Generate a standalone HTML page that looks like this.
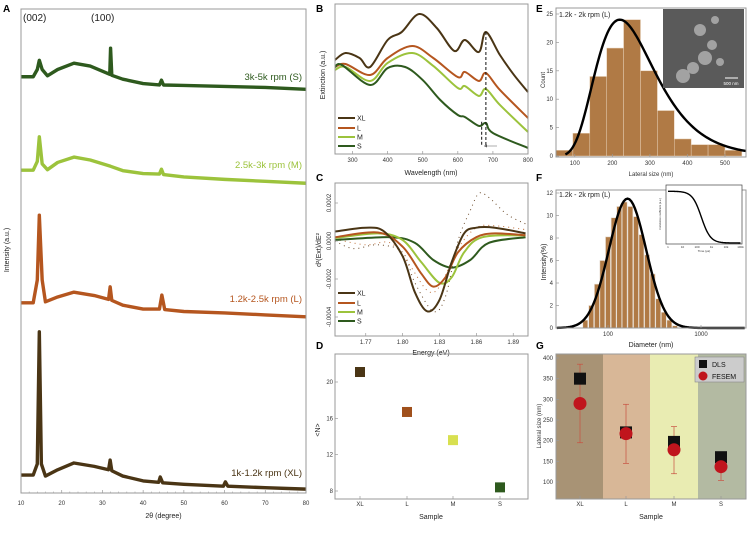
<!DOCTYPE html>
<html><head><meta charset="utf-8"><style>
body{margin:0;background:#fff;}
svg{display:block;font-family:"Liberation Sans",sans-serif;}
.t{font-size:6px;fill:#333;}
.ax{font-size:7px;fill:#222;}
.pl{font-size:10px;font-weight:bold;fill:#000;}
</style></head><body>
<svg id="fig" width="750" height="546" viewBox="0 0 750 546" xmlns="http://www.w3.org/2000/svg">
<g id="g"></g>
</svg>
<script>
// ---- Panel A XRD data [2theta, intensity a.u.]
const xrdS=[[10,86],[13,86],[14,87.5],[14.5,89.4],[15.2,87.5],[16.5,86.2],[19,87.5],[23,88.8],[27,88.2],[31,86.8],[31.8,86.5],[32,91.9],[32.3,86.3],[35,85.5],[40,84.6],[44,84.3],[44.5,85.3],[45,84.3],[50,84.2],[60,84],[70,83.8],[80,83.4]];
const xrdM=[[10,66.7],[13,66.7],[14,68.5],[14.5,73.6],[15.2,68],[16.5,66.8],[19,68.3],[23,69.4],[27,68.8],[32,67.5],[35,66.6],[40,66],[44,65.9],[44.5,66.9],[45,65.8],[50,65.3],[60,64.8],[70,64.4],[80,64]];
const xrdL=[[10,39.3],[13,39.3],[14,44],[14.5,57.4],[15.2,44],[16,39.5],[19,40.5],[23,41.5],[28,40.8],[31.5,40],[31.9,42.6],[32.3,39.8],[35,38.8],[40,38],[44,38],[44.6,40.9],[45.3,37.9],[50,37.5],[60,37.2],[70,36.8],[80,36.4]];
const xrdXL=[[10,3.7],[13,3.7],[14,6],[14.5,33.3],[15,6],[16,3.5],[19,4.8],[23,6.2],[28,5.5],[31.5,4.8],[31.9,6.8],[32.3,4.6],[35,3.5],[40,2.5],[43.8,2.2],[44.2,3.3],[44.8,2.1],[50,1.8],[59.7,1.4],[60.2,2.3],[60.8,1.4],[70,1.1],[80,0.8]];
const xrdTicks=[10,20,30,40,50,60,70,80];
// ---- Panel B extinction
const extXL=[[250,62.7],[280,67.3],[320,64],[350,58],[400,76],[440,81.3],[490,93.3],[540,84],[590,68.7],[620,76],[660,68],[680,81.3],[720,66],[760,52.7],[800,41.3]];
const extL=[[250,58],[280,60],[350,52.7],[400,64],[470,72],[530,64],[600,51.3],[620,54.7],[660,48.7],[680,54],[720,42.7],[800,24]];
const extM=[[250,56],[280,58],[350,48.7],[400,60.7],[470,67.3],[530,58.7],[600,44],[620,45.3],[660,38.7],[680,43.3],[720,32.7],[800,14.7]];
const extS=[[250,58],[270,59.3],[350,46],[400,57.3],[450,58],[500,49.3],[550,36],[600,26],[620,24.7],[660,18.7],[680,20.7],[700,14],[800,4]];
const extTicks=[300,400,500,600,700,800];
// ---- Panel C second derivative (units 1e-4)
const d2XL=[[1.745,0.5],[1.77,0.7],[1.785,0.5],[1.80,-0.8],[1.81,-2.7],[1.82,-3.7],[1.83,-3.1],[1.84,-1.1],[1.85,0.4],[1.86,0.7],[1.875,0.7],[1.90,0.4]];
const d2L=[[1.745,0.2],[1.78,0.45],[1.80,-0.3],[1.815,-1.7],[1.825,-2.4],[1.835,-1.9],[1.845,-0.6],[1.86,0.2],[1.875,0.4],[1.90,0.3]];
const d2M=[[1.745,0.15],[1.78,0.4],[1.80,0.05],[1.815,-1.1],[1.83,-2.2],[1.84,-1.9],[1.85,-0.6],[1.865,0.2],[1.90,0.3]];
const d2S=[[1.745,0.05],[1.79,0.2],[1.81,-0.1],[1.825,-1.0],[1.84,-1.4],[1.855,-1.0],[1.87,-0.1],[1.90,0.2]];
const d2Dot1=[[1.745,0],[1.76,-0.4],[1.78,-0.2],[1.80,-0.6],[1.81,-2.2],[1.825,-3.7],[1.835,-2.9],[1.845,0],[1.855,1.6],[1.862,2.5],[1.87,2.3],[1.885,1.4],[1.90,0.9]];
const d2Dot2=[[1.745,0.1],[1.77,-0.2],[1.79,-0.1],[1.805,-1.2],[1.82,-2.6],[1.83,-2.4],[1.845,-0.4],[1.86,0.7],[1.875,0.8],[1.90,0.6]];
const d2XTicks=[1.77,1.80,1.83,1.86,1.89];
const d2YTicks=[2,0,-2,-4];
// ---- Panel D
const samples=["XL","L","M","S"];
const nValues=[21.1,16.7,13.6,8.4];
const nTicks=[8,12,16,20];
// ---- Panel E histogram
const binEdges=[50,95,140,185,230,275,320,365,410,455,500,545];
const binCounts=[1,4,14,19,24,15,8,3,2,2,1];
const eXTicks=[100,200,300,400,500];
const eYTicks=[0,5,10,15,20,25];
// ---- Panel F DLS
const dlsDiam=[57,66,76,87,100,115,132,151,174,200,229,263,302,347,398,457,525];
const dlsInt=[0.7,2,3.9,6,8.1,9.8,10.8,11.2,10.8,9.9,8.3,6.5,4.8,2.6,1.4,0.7,0.2];
const fYTicks=[0,2,4,6,8,10,12];
const fXTicks=[100,1000];
// ---- Panel G
const dlsSize=[350,220,197,160];
const semSize=[290,217,178,137];
const semLo=[195,145,120,104];
const semHi=[385,288,234,170];
const gYTicks=[100,150,200,250,300,350,400];

const colS="#2e5a1e",colM="#9cc33c",colL="#b5561f",colXL="#4a3515";
const NS="http://www.w3.org/2000/svg";
const root=document.getElementById('g');
function el(tag,attrs,parent){const e=document.createElementNS(NS,tag);for(const k in attrs)e.setAttribute(k,attrs[k]);(parent||root).appendChild(e);return e;}
function txt(s,x,y,cls,extra,parent){const e=el('text',Object.assign({x:x,y:y,class:cls},extra||{}),parent);e.textContent=s;return e;}
function lin(d0,d1,r0,r1){return v=>r0+(v-d0)*(r1-r0)/(d1-d0);}
function pathLin(pts,sx,sy){return pts.map((p,i)=>(i?'L':'M')+sx(p[0]).toFixed(2)+','+sy(p[1]).toFixed(2)).join('');}
function pathSmooth(pts,sx,sy){const P=pts.map(p=>[sx(p[0]),sy(p[1])]);let d='M'+P[0][0]+','+P[0][1];for(let i=0;i<P.length-1;i++){const p0=P[i-1]||P[i],p1=P[i],p2=P[i+1],p3=P[i+2]||p2;d+='C'+(p1[0]+(p2[0]-p0[0])/6)+','+(p1[1]+(p2[1]-p0[1])/6)+' '+(p2[0]-(p3[0]-p1[0])/6)+','+(p2[1]-(p3[1]-p1[1])/6)+' '+p2[0]+','+p2[1];}return d;}
function frame(x0,y0,x1,y1,name){const r=el('rect',{x:x0,y:y0,width:x1-x0,height:y1-y0,fill:'none',stroke:'#999','stroke-width':1});return r;}
function tickX(x,y){el('line',{x1:x,x2:x,y1:y,y2:y-3,stroke:'#999','stroke-width':0.7});}
function tickY(x,y){el('line',{x1:x,x2:x+3,y1:y,y2:y,stroke:'#999','stroke-width':0.7});}

[["A",3,12],["B",316,12],["C",316,181],["D",316,349],["E",536,12],["F",536,181],["G",536,349]].forEach(a=>{const t=txt(a[0],a[1],a[2],'pl');});

// ===== Panel A
{const sx=lin(10,80,21,306),sy=lin(0,100,493,9);
[[xrdS,colS,'xrd-s'],[xrdM,colM,'xrd-m'],[xrdL,colL,'xrd-l'],[xrdXL,colXL,'xrd-xl']].forEach(s=>{const p=el('path',{d:pathLin(s[0],sx,sy),fill:'none',stroke:s[1],'stroke-width':3.4,'stroke-linejoin':'round'});});
frame(21,9,306,493,'xrd-plot-frame');
xrdTicks.forEach(v=>{tickX(sx(v),493);const t=txt(v,sx(v),505,'t',{'text-anchor':'middle'});});
for(let v=12;v<80;v+=2){if(v%10)el('line',{x1:sx(v),x2:sx(v),y1:493,y2:491.5,stroke:'#999','stroke-width':0.5});}
let t=txt('2θ (degree)',sx(45),518,'ax',{'text-anchor':'middle'});
t=txt('Intensity (a.u.)',0,0,'ax',{'text-anchor':'middle',transform:'translate(9,250) rotate(-90)'});
t=txt('(002)',23,21,'',{'font-size':'10px',fill:'#222'});
t=txt('(100)',91,21,'',{'font-size':'10px',fill:'#222'});
[['3k-5k rpm (S)',80,colS,'label-s'],['2.5k-3k rpm (M)',168,colM,'label-m'],['1.2k-2.5k rpm (L)',302,colL,'label-l'],['1k-1.2k rpm (XL)',476,colXL,'label-xl']].forEach(a=>{const e=txt(a[0],302,a[1],'',{'font-size':'9.5px','text-anchor':'end',fill:a[2]});});
}

// ===== Panel B
{const sx=lin(250,800,335,528),sy=lin(0,100,154,4);
[[extXL,colXL,'ext-xl'],[extL,colL,'ext-l'],[extM,colM,'ext-m'],[extS,colS,'ext-s']].forEach(s=>{const p=el('path',{d:pathSmooth(s[0],sx,sy),fill:'none',stroke:s[1],'stroke-width':2});});
el('line',{x1:sx(680),x2:sx(680),y1:sy(81.3),y2:146,stroke:'#111','stroke-width':1,'stroke-dasharray':'3,2'});
el('line',{x1:sx(668),x2:sx(668),y1:sy(21.5),y2:146,stroke:'#111','stroke-width':1,'stroke-dasharray':'3,2'});
el('line',{x1:497,x2:484,y1:146,y2:146,stroke:'#777','stroke-width':0.6});
el('path',{d:'M484,146 l3,-1.5 l0,3z',fill:'#555'});
frame(335,4,528,154,'extinction-plot-frame');
extTicks.forEach(v=>{tickX(sx(v),154);const t=txt(v,sx(v),162,'t',{'text-anchor':'middle'});});
let t=txt('Wavelength (nm)',431,175,'ax',{'text-anchor':'middle'});
t=txt('Extinction (a.u.)',0,0,'ax',{'text-anchor':'middle',transform:'translate(325,75) rotate(-90)'});
[['XL',colXL,118],['L',colL,128],['M',colM,137],['S',colS,146]].forEach(a=>{const g=el('g',{});el('line',{x1:338,x2:355,y1:a[2],y2:a[2],stroke:a[1],'stroke-width':2},g);txt(a[0],357,a[2]+2.5,'',{'font-size':'7px',fill:'#222'},g);});
}

// ===== Panel C
{const sx=lin(1.745,1.902,335,528),sy=lin(0,2,241,203);
[[d2Dot1,'#6b4a2a'],[d2Dot2,'#c0703a']].forEach((s,i)=>{const p=el('path',{d:pathSmooth(s[0],sx,sy),fill:'none',stroke:s[1],'stroke-width':1,'stroke-dasharray':'1,4'});});
[[d2S,colS,'d2-s'],[d2M,colM,'d2-m'],[d2L,colL,'d2-l'],[d2XL,colXL,'d2-xl']].forEach(s=>{const p=el('path',{d:pathSmooth(s[0],sx,sy),fill:'none',stroke:s[1],'stroke-width':2});});
frame(335,183,528,336,'d2-plot-frame');
d2XTicks.forEach(v=>{tickX(sx(v),336);const t=txt(v.toFixed(2),sx(v),344,'t',{'text-anchor':'middle'});});
d2YTicks.forEach(v=>{tickY(335,sy(v));const lab=(v<0?'-':'')+'0.000'+Math.abs(v);const t=txt(lab,0,0,'t',{'text-anchor':'middle',transform:'translate(331,'+sy(v)+') rotate(-90)'});});
let t=txt('Energy (eV)',431,355,'ax',{'text-anchor':'middle'});
t=txt('d²(Ext)/dE²',0,0,'ax',{'text-anchor':'middle',transform:'translate(321,250) rotate(-90)'});
[['XL',colXL,293],['L',colL,303],['M',colM,312],['S',colS,321]].forEach(a=>{const g=el('g',{});el('line',{x1:338,x2:355,y1:a[2],y2:a[2],stroke:a[1],'stroke-width':2},g);txt(a[0],357,a[2]+2.5,'',{'font-size':'7px',fill:'#222'},g);});
}

// ===== Panel D
{const cx=[360,407,453,500],sy=lin(8,20,491,382);const cols=[colXL,'#a0501c','#d8e050',colS];
frame(335,354,528,499,'n-plot-frame');
samples.forEach((s,i)=>{const r=el('rect',{x:cx[i]-5,y:sy(nValues[i])-5,width:10,height:10,fill:cols[i]});tickX(cx[i],499);const t=txt(s,cx[i],506,'t',{'text-anchor':'middle'});});
nTicks.forEach(v=>{tickY(335,sy(v));const t=txt(v,333,sy(v)+2,'t',{'text-anchor':'end'});});
let t=txt('Sample',431,519,'ax',{'text-anchor':'middle'});
t=txt('<N>',0,0,'ax',{'text-anchor':'middle',transform:'translate(320,430) rotate(-90)'});
}

// ===== Panel E
{const sx=lin(50,556,556,746),sy=lin(0,25,156,14);
binCounts.forEach((c,i)=>{const r=el('rect',{x:sx(binEdges[i]),y:sy(c),width:sx(binEdges[i+1])-sx(binEdges[i]),height:156-sy(c),fill:'#b07a45',stroke:'#e6cfb5','stroke-width':0.5});});
const fit=[];const s=0.36,mu=Math.log(220)+s*s;for(let x=75;x<=556;x+=4){const v=24*Math.exp(-Math.pow(Math.log(x)-mu,2)/(2*s*s))*(220/x)*Math.exp(-s*s/2)*Math.exp(0);fit.push([x,v]);}
// normalize peak to 24
const mx=Math.max(...fit.map(p=>p[1]));fit.forEach(p=>p[1]=p[1]*24/mx);
let p=el('path',{d:pathLin(fit,sx,sy),fill:'none',stroke:'#000','stroke-width':2.4});
const ins=el('g',{});
el('rect',{x:663,y:9,width:81,height:79,fill:'#5a5a5a'},ins);
[[700,30,6],[712,45,5],[705,58,7],[693,68,6],[683,76,7],[715,20,4],[720,62,4]].forEach(a=>el('circle',{cx:a[0],cy:a[1],r:a[2],fill:'#b4b4b4',opacity:0.8},ins));
el('line',{x1:725,x2:738,y1:78,y2:78,stroke:'#fff','stroke-width':1},ins);
txt('500 nm',731,85,'',{'font-size':'4.5px',fill:'#fff','text-anchor':'middle'},ins);
frame(556,8,746,157,'hist-plot-frame');
eXTicks.forEach(v=>{tickX(sx(v),157);const t=txt(v,sx(v),165,'t',{'text-anchor':'middle'});});
eYTicks.forEach(v=>{tickY(556,sy(v));const t=txt(v,553,sy(v)+2,'t',{'text-anchor':'end'});});
let t=txt('Lateral size (nm)',651,176,'t',{'text-anchor':'middle','font-size':'6.5px'});
t=txt('Count',0,0,'t',{'text-anchor':'middle',transform:'translate(545,80) rotate(-90)'});
t=txt('1.2k - 2k rpm (L)',559,17,'',{'font-size':'7px',fill:'#222'});
}

// ===== Panel F
{const sx=v=>608+(Math.log10(v)-2)*93,sy=lin(0,12,328,193);
dlsDiam.forEach((d,i)=>{const r=el('rect',{x:sx(d)-2.5,y:sy(dlsInt[i]),width:5,height:328-sy(dlsInt[i]),fill:'#b07a45',stroke:'#e8e0d8','stroke-width':0.6});});
const fit=[];for(let l=1.45;l<=3.48;l+=0.02){fit.push([Math.pow(10,l),11.5*Math.exp(-Math.pow(l-2.21,2)/(2*0.2*0.2))]);}
let p=el('path',{d:pathLin(fit,sx,sy),fill:'none',stroke:'#000','stroke-width':2.4});
frame(556,190,746,328,'dls-plot-frame');
const ins=el('g',{});
el('rect',{x:666,y:185,width:76,height:59,fill:'#fff',stroke:'#444','stroke-width':0.7},ins);
const ix=l=>668+l*14.5,iy=lin(0,0.85,243,188);const cc=[];for(let l=0;l<=5;l+=0.05){cc.push([l,0.8/(1+Math.exp((l-2.3)*3.2))]);}
el('path',{d:pathLin(cc,ix,iy),fill:'none',stroke:'#000','stroke-width':1.4},ins);
['1','10','100','1k','10k','100k'].forEach((s,i)=>txt(s,ix(i),248,'',{'font-size':'3px','text-anchor':'middle',fill:'#333'},ins));
txt('Time (μs)',704,252,'',{'font-size':'3px','text-anchor':'middle',fill:'#333'},ins);
txt('Correlation coefficient (a.u.)',0,0,'',{'font-size':'2.6px','text-anchor':'middle',fill:'#333',transform:'translate(661,214) rotate(-90)'},ins);
fXTicks.forEach(v=>{tickX(sx(v),328);const t=txt(v,sx(v),336,'t',{'text-anchor':'middle'});});
fYTicks.forEach(v=>{tickY(556,sy(v));const t=txt(v,553,sy(v)+2,'t',{'text-anchor':'end'});});
let t=txt('Diameter (nm)',651,347,'ax',{'text-anchor':'middle'});
t=txt('Intensity(%)',0,0,'ax',{'text-anchor':'middle',transform:'translate(546,262) rotate(-90)'});
t=txt('1.2k - 2k rpm (L)',559,197,'',{'font-size':'7px',fill:'#222'});
}

// ===== Panel G
{const cx=[580,626,674,721],sy=lin(100,400,482,358);const bands=['#a89375','#d8b797','#e9ecb2','#b3baa2'];const bx=[556,603,650,698,746];
bands.forEach((c,i)=>{const r=el('rect',{x:bx[i],y:354,width:bx[i+1]-bx[i],height:145,fill:c});});
samples.forEach((s,i)=>{
 const e=el('g',{});
 el('line',{x1:cx[i],x2:cx[i],y1:sy(semLo[i]),y2:sy(semHi[i]),stroke:'#c85040','stroke-width':0.7},e);
 el('line',{x1:cx[i]-3,x2:cx[i]+3,y1:sy(semLo[i]),y2:sy(semLo[i]),stroke:'#c85040','stroke-width':0.7},e);
 el('line',{x1:cx[i]-3,x2:cx[i]+3,y1:sy(semHi[i]),y2:sy(semHi[i]),stroke:'#c85040','stroke-width':0.7},e);
 const r=el('rect',{x:cx[i]-6,y:sy(dlsSize[i])-6,width:12,height:12,fill:'#111'});
 const c=el('circle',{cx:cx[i],cy:sy(semSize[i]),r:6.5,fill:'#c0151d'});
 tickX(cx[i],499);const t=txt(s,cx[i],506,'t',{'text-anchor':'middle'});});
gYTicks.forEach(v=>{tickY(556,sy(v));const t=txt(v,553,sy(v)+2,'t',{'text-anchor':'end'});});
frame(556,354,746,499,'size-plot-frame');
const lg=el('g',{});
el('rect',{x:695,y:357,width:49,height:25,fill:'#ccc',stroke:'#888','stroke-width':0.6},lg);
el('rect',{x:699,y:360,width:8,height:8,fill:'#111'},lg);el('circle',{cx:703,cy:376,r:4.5,fill:'#c0151d'},lg);
txt('DLS',712,367,'',{'font-size':'7px',fill:'#111'},lg);txt('FESEM',712,379,'',{'font-size':'7px',fill:'#111'},lg);
let t=txt('Sample',651,519,'ax',{'text-anchor':'middle'});
t=txt('Lateral size (nm)',0,0,'t',{'text-anchor':'middle',transform:'translate(541,426) rotate(-90)'});
}
</script>
</body></html>
